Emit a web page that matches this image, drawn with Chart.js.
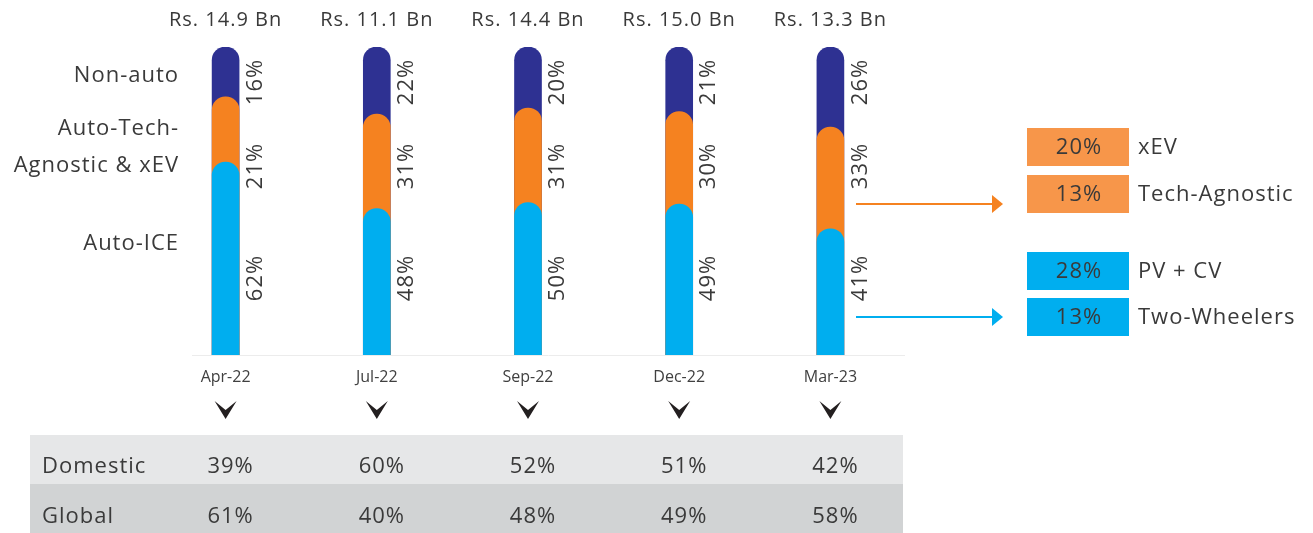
<!DOCTYPE html>
<html>
<head>
<meta charset="utf-8">
<script src="https://cdn.jsdelivr.net/npm/chart.js@4/dist/chart.umd.min.js"></script>
<style>
  html, body { margin: 0; padding: 0; background: #ffffff; }
  #wrap { width: 1313px; height: 533px; position: relative; }
</style>
</head>
<body>
<div id="wrap"><canvas id="c" width="1313" height="533"></canvas></div>
<script>
// ---- data ----
const categories   = ['Apr-22', 'Jul-22', 'Sep-22', 'Dec-22', 'Mar-23'];
const revenueBn    = [14.9, 11.1, 14.4, 15.0, 13.3];
const autoICE      = [62, 48, 50, 49, 41];
const autoTechXev  = [21, 31, 31, 30, 33];
const nonAuto      = [16, 22, 20, 21, 26];
const domestic     = [39, 60, 52, 51, 42];
const global       = [61, 40, 48, 49, 58];
const seriesNames  = ['Non-auto', 'Auto-Tech-\nAgnostic & xEV', 'Auto-ICE'];
const techSplitLabels = ['xEV', 'Tech-Agnostic'];
const techSplit       = [20, 13];
const iceSplitLabels  = ['PV + CV', 'Two-Wheelers'];
const iceSplit        = [28, 13];

// ---- derived (cumulative shares, normalised to the bar total) ----
const sums = categories.map((_, i) => autoICE[i] + autoTechXev[i] + nonAuto[i]);
const cumICE  = autoICE.map((v, i) => v / sums[i] * 100);
const cumTech = autoICE.map((v, i) => (v + autoTechXev[i]) / sums[i] * 100);
const cumAll  = sums.map(s => s / s * 100);

const NAVY = '#2E3192', ORANGE = '#F58220', BLUE = '#00AEEF';
const BOX_ORANGE = '#F7964A';
const TXT = '#3a3a3a';
const FONT = '"Open Sans", sans-serif';
const radius = { topLeft: 14, topRight: 14, bottomLeft: 0, bottomRight: 0 };

const overlay = {
  id: 'overlay',
  afterDraw(chart) {
    const ctx = chart.ctx;
    const xs = chart.scales.x;
    const centers = categories.map((_, i) => xs.getPixelForValue(i));
    ctx.save();
    ctx.letterSpacing = '1px';

    // faint baseline
    ctx.strokeStyle = '#ececec';
    ctx.lineWidth = 1;
    ctx.beginPath(); ctx.moveTo(192, 355.5); ctx.lineTo(905, 355.5); ctx.stroke();

    ctx.fillStyle = TXT;
    // totals on top
    ctx.font = '20px ' + FONT;
    ctx.textAlign = 'center'; ctx.textBaseline = 'middle';
    centers.forEach((c, i) => ctx.fillText('Rs. ' + revenueBn[i].toFixed(1) + ' Bn', c, 20));

    // left series labels
    ctx.font = '22px ' + FONT;
    ctx.textAlign = 'right'; ctx.textBaseline = 'alphabetic';
    ctx.fillText(seriesNames[0], 179, 82);
    const two = seriesNames[1].split('\n');
    ctx.fillText(two[0], 179, 135);
    ctx.fillText(two[1], 179, 172);
    ctx.fillText(seriesNames[2], 179, 250);

    // rotated share labels
    const rows = [[nonAuto, 82], [autoTechXev, 166], [autoICE, 278]];
    ctx.font = '22px ' + FONT;
    centers.forEach((c, i) => {
      rows.forEach(([arr, y]) => {
        ctx.save();
        ctx.translate(c + 30, y);
        ctx.rotate(-Math.PI / 2);
        ctx.textAlign = 'center'; ctx.textBaseline = 'middle';
        ctx.fillText(arr[i] + '%', 0, 0);
        ctx.restore();
      });
    });

    // chevrons
    ctx.fillStyle = '#231f20';
    centers.forEach(c => {
      ctx.beginPath();
      ctx.moveTo(c - 11, 401); ctx.lineTo(c, 410); ctx.lineTo(c + 11, 401); ctx.lineTo(c, 419);
      ctx.closePath(); ctx.fill();
    });

    // table
    ctx.fillStyle = '#E6E7E8'; ctx.fillRect(30, 435, 873, 49);
    ctx.fillStyle = '#D1D3D4'; ctx.fillRect(30, 484, 873, 49);
    ctx.fillStyle = TXT;
    ctx.font = '22px ' + FONT;
    ctx.textBaseline = 'alphabetic';
    ctx.textAlign = 'left';
    ctx.fillText('Domestic', 42, 473);
    ctx.fillText('Global', 42, 523);
    ctx.textAlign = 'center';
    centers.forEach((c, i) => {
      ctx.fillText(domestic[i] + '%', c + 5, 473);
      ctx.fillText(global[i] + '%', c + 5, 523);
    });

    // arrows
    const arrow = (y, col) => {
      ctx.strokeStyle = col; ctx.fillStyle = col; ctx.lineWidth = 2;
      ctx.beginPath(); ctx.moveTo(856, y); ctx.lineTo(995, y); ctx.stroke();
      ctx.beginPath(); ctx.moveTo(992, y - 9); ctx.lineTo(1003, y); ctx.lineTo(992, y + 9); ctx.closePath(); ctx.fill();
    };
    arrow(204, ORANGE);
    arrow(317, BLUE);

    // breakdown boxes
    const box = (y, col, val, lab) => {
      ctx.fillStyle = col; ctx.fillRect(1027, y, 102, 38);
      ctx.fillStyle = TXT;
      ctx.font = '22px ' + FONT;
      ctx.textBaseline = 'middle';
      ctx.textAlign = 'center'; ctx.fillText(val + '%', 1079, y + 20);
      ctx.textAlign = 'left'; ctx.fillText(lab, 1138, y + 20);
    };
    box(128, BOX_ORANGE, techSplit[0], techSplitLabels[0]);
    box(175, BOX_ORANGE, techSplit[1], techSplitLabels[1]);
    box(252, BLUE, iceSplit[0], iceSplitLabels[0]);
    box(298, BLUE, iceSplit[1], iceSplitLabels[1]);

    ctx.restore();
  }
};

new Chart(document.getElementById('c'), {
  type: 'bar',
  data: {
    labels: categories,
    datasets: [
      { label: 'Auto-ICE', data: cumICE, backgroundColor: BLUE, order: 0 },
      { label: 'Auto-Tech-Agnostic & xEV', data: cumTech, backgroundColor: ORANGE, order: 1 },
      { label: 'Non-auto', data: cumAll, backgroundColor: NAVY, order: 2 }
    ].map(d => Object.assign(d, {
      grouped: false, barThickness: 27, borderRadius: radius, borderSkipped: 'start', borderWidth: 0
    }))
  },
  options: {
    responsive: false,
    animation: false,
    events: [],
    layout: { padding: { left: 150, right: 407, top: 47, bottom: 138 } },
    plugins: { legend: { display: false }, tooltip: { enabled: false } },
    scales: {
      x: {
        grid: { display: false, drawTicks: false },
        border: { display: false },
        ticks: { color: '#404040', font: { family: 'Open Sans', size: 16 }, padding: 13, maxRotation: 0 },
        afterFit: s => { s.height = 40; }
      },
      y: { display: false, min: 0, max: 100 }
    }
  },
  plugins: [overlay]
});
</script>
</body>
</html>
